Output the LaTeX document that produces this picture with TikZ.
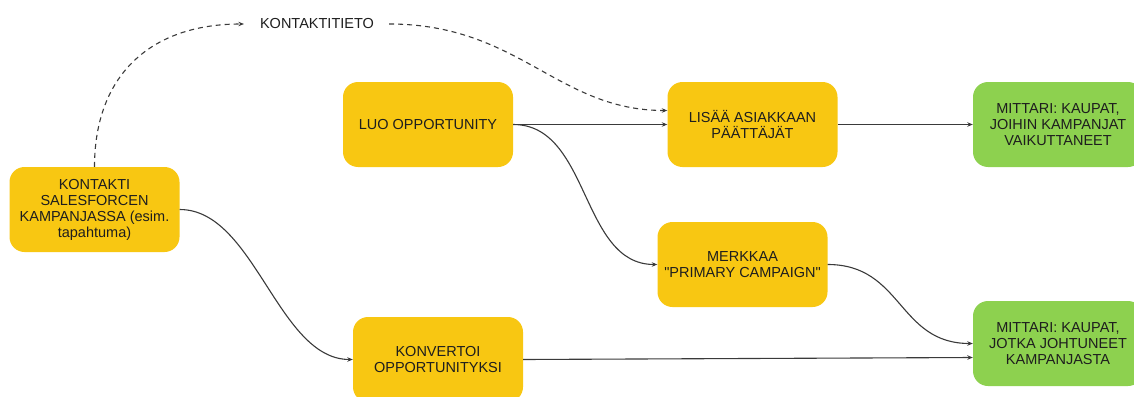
\documentclass[tikz,border=0pt]{standalone}
\usepackage{fontspec}
\setmainfont{Liberation Sans}[Ligatures=TeXOff]
\usetikzlibrary{arrows.meta}
\definecolor{boxyellow}{HTML}{F8C712}
\definecolor{boxgreen}{HTML}{8DD14F}
\definecolor{linegray}{HTML}{3A3A3A}
\definecolor{txt}{HTML}{1E1E1E}
\tikzset{
  box/.style={rounded corners=15pt, minimum width=170pt, minimum height=85pt, align=center, inner sep=0pt, text=txt, font=\fontsize{14.5}{16}\selectfont},
  ybox/.style={box, fill=boxyellow},
  gbox/.style={box, fill=boxgreen},
  conn/.style={draw=linegray, line width=1.1pt, -{Stealth[length=5.5pt,width=4.5pt]}},
  dconn/.style={conn, dash pattern=on 5pt off 4pt}
}
\begin{document}
\begin{tikzpicture}[x=1pt,y=-1pt]
\useasboundingbox (0,0) rectangle (1134,396);
\node[ybox] (kontakti) at (94.5,209.5) {KONTAKTI\\SALESFORCEN\\KAMPANJASSA (esim.\\tapahtuma)};
\node[ybox] (luo) at (428,124.5) {LUO OPPORTUNITY};
\node[ybox] (lisaa) at (752.5,124.5) {LISÄÄ ASIAKKAAN\\PÄÄTTÄJÄT};
\node[gbox] (mittari1) at (1058,124.5) {MITTARI: KAUPAT,\\JOIHIN KAMPANJAT\\VAIKUTTANEET};
\node[ybox] (merkkaa) at (742.5,264.5) {MERKKAA\\"PRIMARY CAMPAIGN"};
\node[ybox] (konvertoi) at (438,359.5) {KONVERTOI\\OPPORTUNITYKSI};
\node[gbox] (mittari2) at (1058,343.5) {MITTARI: KAUPAT,\\JOTKA JOHTUNEET\\KAMPANJASTA};
\node[inner sep=0pt, text=txt, font=\fontsize{14.5}{16}\selectfont] (kt) at (317,24) {KONTAKTITIETO};
\coordinate (ktin) at ([xshift=-16pt]kt.west);
\coordinate (ktout) at ([xshift=15pt]kt.east);
\coordinate (lisaadash) at ([yshift=14pt]lisaa.west);
\coordinate (m2low) at ([yshift=-14pt]mittari2.west);

\draw[dconn] (kontakti.north) .. controls +(0,-90) and +(-95,0) .. (ktin);
\draw[dconn] (ktout) .. controls +(130,0) and +(-110,0) .. (lisaadash);
\draw[conn] (luo.east) -- (lisaa.west);
\draw[conn] (luo.east) .. controls +(77,0) and +(-77,0) .. (merkkaa.west);
\draw[conn] (lisaa.east) -- (mittari1.west);
\draw[conn] (kontakti.east) .. controls +(75,0) and +(-75,0) .. (konvertoi.west);
\draw[conn] (merkkaa.east) .. controls +(75,0) and +(-75,0) .. (mittari2.west);
\draw[conn] (konvertoi.east) -- (m2low);
\end{tikzpicture}
\end{document}
